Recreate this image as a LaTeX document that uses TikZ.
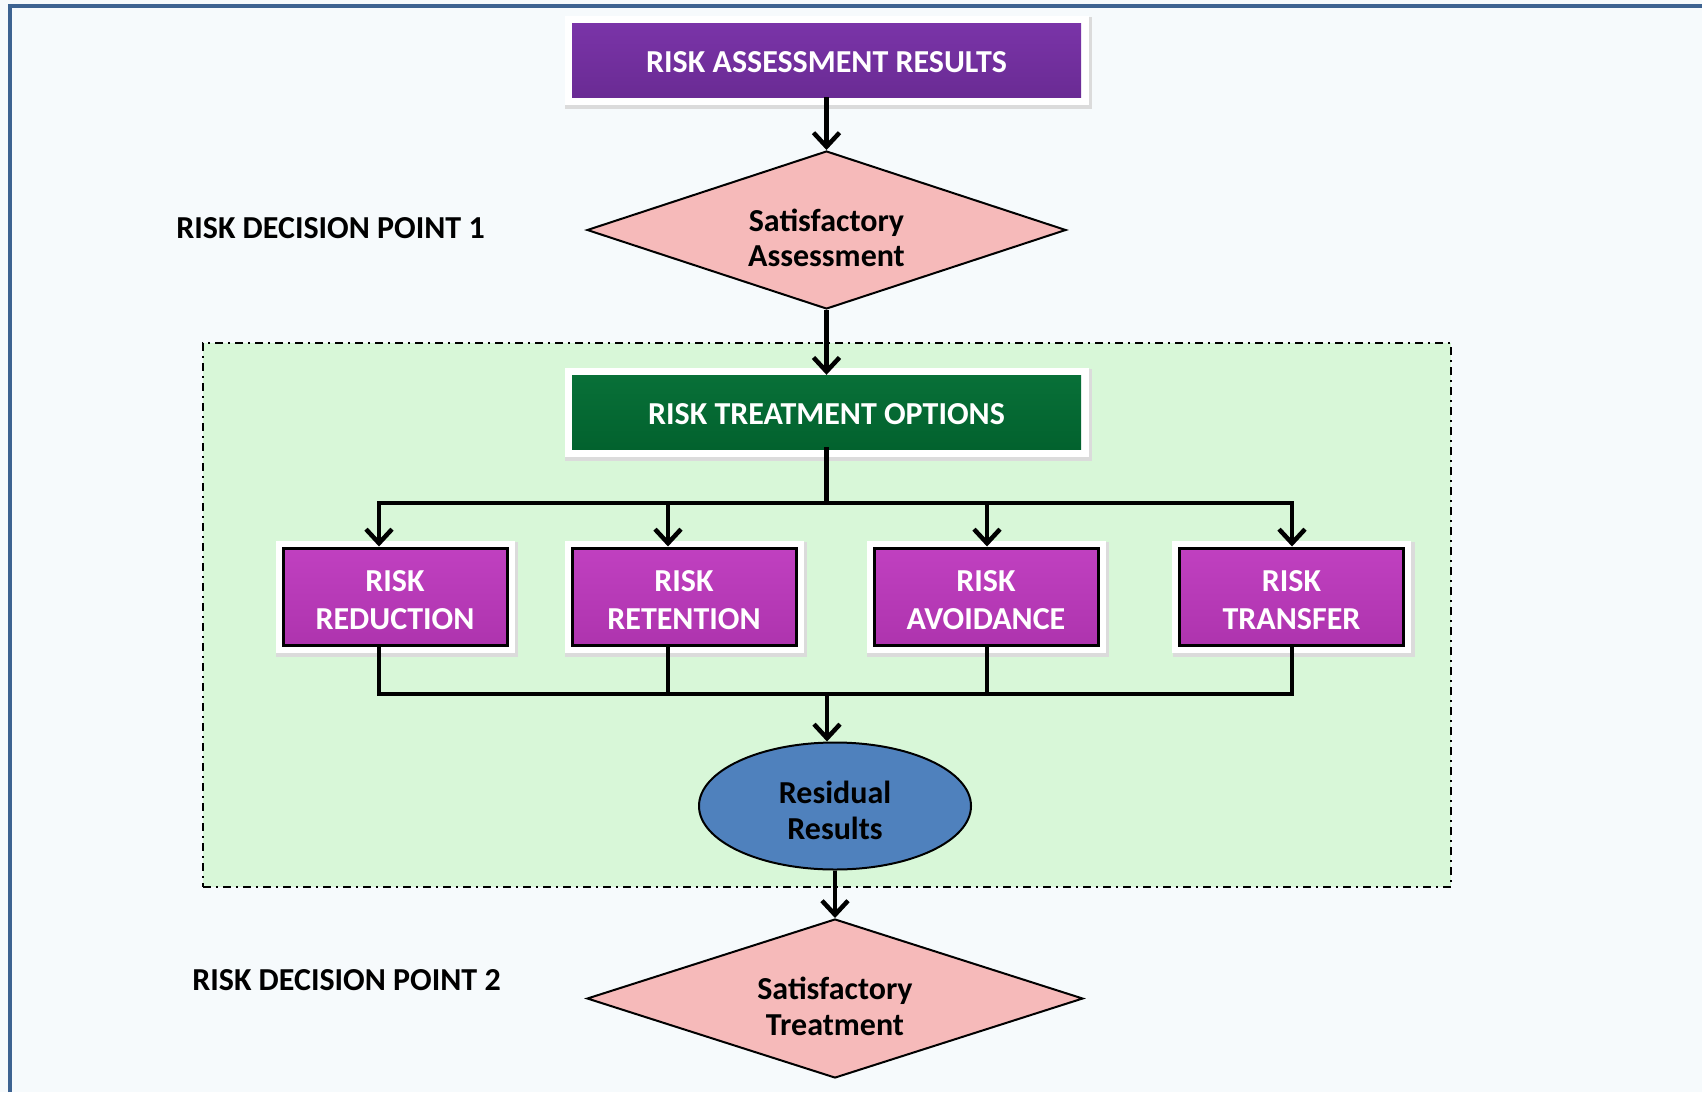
\documentclass[tikz,border=0pt]{standalone}
\usepackage{fontspec}
\setmainfont{Carlito}
\usetikzlibrary{arrows.meta,shapes.geometric}
\definecolor{bgc}{RGB}{246,250,252}
\definecolor{framec}{RGB}{61,99,145}
\definecolor{topc}{RGB}{106,43,148}
\definecolor{topl}{RGB}{122,52,168}
\definecolor{greenc}{RGB}{2,98,46}
\definecolor{greenl}{RGB}{8,112,56}
\definecolor{optc}{RGB}{174,52,174}
\definecolor{optl}{RGB}{192,64,192}
\definecolor{pinkc}{RGB}{246,186,186}
\definecolor{ellc}{RGB}{79,129,189}
\definecolor{regc}{RGB}{216,247,216}
\newcommand{\shiftlines}[2]{\raisebox{#1}[\height][\depth]{\begin{tabular}{@{}c@{}}#2\end{tabular}}}
\newcommand{\shiftline}[2]{\raisebox{#1}[\height][\depth]{#2}}
\tikzset{
  txt/.style={font=\bfseries\fontsize{32}{38}\selectfont},
  boxbase/.style={rectangle, inner sep=0pt, txt, text=white,
    preaction={draw=black!14, line width=18pt, transform canvas={xshift=2pt,yshift=-3pt}},
    preaction={draw=white, line width=15pt}},
  headbox/.style={boxbase, minimum width=509pt, minimum height=74pt},
  optbox/.style={boxbase, draw=black, line width=3pt, minimum width=224pt, minimum height=97pt},
  decide/.style={diamond, aspect=3, inner sep=0pt, fill=pinkc, draw=black, line width=2pt,
    font=\bfseries\fontsize{32}{35.5}\selectfont},
  label/.style={txt, text=black},
  conn/.style={draw=black, line width=4.5pt, line cap=rect},
  arr/.style={draw=black, line width=4.5pt, -{Straight Barb[length=14pt,width=26pt]}},
}
\begin{document}
\begin{tikzpicture}[x=1pt, y=-1pt]
\useasboundingbox (0,0) rectangle (1702,1092);
\fill[bgc] (0,0) rectangle (1702,1092);
\draw[framec, line width=4pt] (10,1092) -- (10,6) -- (1702,6);

% treatment region
\node (reg) [rectangle, minimum width=1248pt, minimum height=544pt, fill=regc, draw=black,
  line width=2pt, dash pattern=on 8pt off 5pt on 2pt off 5pt] at (827,615) {};

% nodes
\node (top) [headbox, top color=topl, bottom color=topc] at (826.5,60)
  {\shiftline{-2pt}{RISK ASSESSMENT RESULTS}};
\node (d1) [decide, minimum width=479pt, minimum height=158pt] at (826.5,230)
  {\shiftlines{-12pt}{Satisfactory\\Assessment}};
\node (tr) [headbox, top color=greenl, bottom color=greenc] at (826.5,412)
  {\shiftline{-2pt}{RISK TREATMENT OPTIONS}};

\node (red) [optbox, top color=optl, bottom color=optc] at (395,596.5) {\shiftlines{-6pt}{RISK\\REDUCTION}};
\node (ret) [optbox, top color=optl, bottom color=optc] at (684,596.5) {\shiftlines{-6pt}{RISK\\RETENTION}};
\node (avo) [optbox, top color=optl, bottom color=optc] at (986,596.5) {\shiftlines{-6pt}{RISK\\AVOIDANCE}};
\node (tra) [optbox, top color=optl, bottom color=optc] at (1291.5,596.5) {\shiftlines{-6pt}{RISK\\TRANSFER}};

\node (res) [ellipse, minimum width=272pt, minimum height=127pt, inner sep=0pt, fill=ellc,
  draw=black, line width=2pt, font=\bfseries\fontsize{32}{36}\selectfont] at (835,806)
  {\shiftlines{-8pt}{Residual\\Results}};
\node (d2) [decide, minimum width=496pt, minimum height=159pt] at (835,998.5)
  {\shiftlines{-12pt}{Satisfactory\\Treatment}};

\node (l1) [label] at (330.5,228) {RISK DECISION POINT 1};
\node (l2) [label] at (346.5,980) {RISK DECISION POINT 2};

% bus coordinates
\coordinate (b1) at (379,503);
\coordinate (b2) at (668,503);
\coordinate (b3) at (987,503);
\coordinate (b4) at (1292,503);
\coordinate (u1) at (379,694);
\coordinate (u2) at (668,694);
\coordinate (u3) at (987,694);
\coordinate (u4) at (1292,694);
\coordinate (m) at (827,694);

% connectors
\draw[arr] (top.south) -- (d1.north);
\draw[arr] (d1.south) -- (tr.north);
\draw[conn] (tr.south) -- (tr.south |- b1);
\draw[conn] (b1) -- (b4);
\draw[arr] (b1) -- (b1 |- red.north);
\draw[arr] (b2) -- (b2 |- ret.north);
\draw[arr] (b3) -- (b3 |- avo.north);
\draw[arr] (b4) -- (b4 |- tra.north);
\draw[conn] (u1 |- red.south) -- (u1);
\draw[conn] (u2 |- ret.south) -- (u2);
\draw[conn] (u3 |- avo.south) -- (u3);
\draw[conn] (u4 |- tra.south) -- (u4);
\draw[conn] (u1) -- (u4);
\draw[arr] (m) -- (m |- res.north);
\draw[arr] (res.south) -- (d2.north);
\end{tikzpicture}
\end{document}
